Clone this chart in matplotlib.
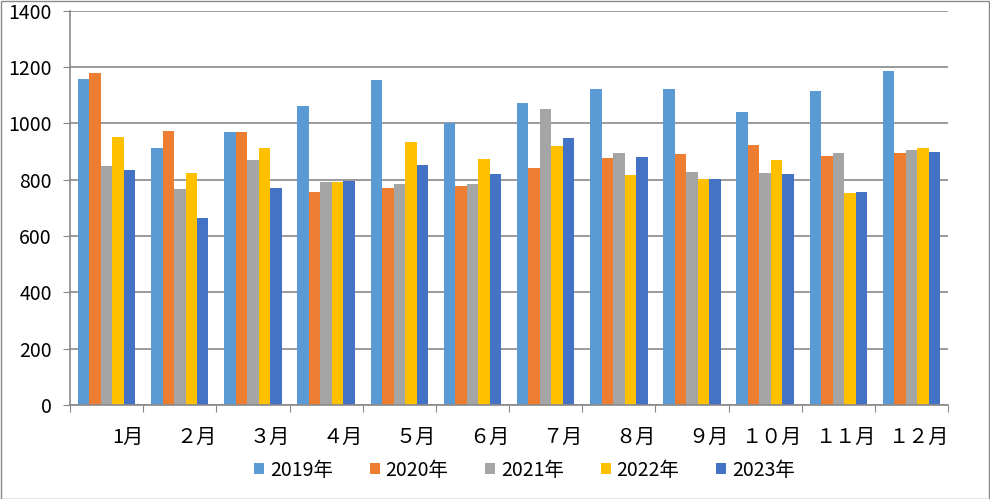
import matplotlib.pyplot as plt
import numpy as np

plt.rcParams['font.family'] = ['Noto Sans CJK JP', 'DejaVu Sans']

months = ['1月', '２月', '３月', '４月', '５月', '６月', '７月', '８月', '９月', '１０月', '１１月', '１２月']
years = ['2019年', '2020年', '2021年', '2022年', '2023年']
colors = ['#5B9BD5', '#ED7D31', '#A5A5A5', '#FFC000', '#4472C4']

v2019 = [1158, 913, 970, 1062, 1155, 1002, 1073, 1123, 1123, 1041, 1116, 1187]
v2020 = [1180, 973, 970, 757, 771, 778, 842, 877, 892, 924, 885, 895]
v2021 = [849, 767, 870, 792, 785, 785, 1052, 895, 828, 824, 895, 906]
v2022 = [952, 824, 913, 792, 934, 874, 920, 817, 803, 870, 753, 913]
v2023 = [835, 664, 771, 796, 853, 821, 949, 881, 803, 821, 757, 899]
series = [v2019, v2020, v2021, v2022, v2023]

fig = plt.figure(figsize=(9.9, 4.99), dpi=100)
ax = fig.add_axes([0.0707, 0.1884, 0.887, 0.79])

x = np.arange(len(months))
w = 0.157
for k, vals in enumerate(series):
    ax.bar(x + (k - 2) * w, vals, w, color=colors[k], label=years[k], zorder=2)

ax.set_xlim(-0.5, 11.5)
ax.set_ylim(0, 1400)
ax.set_yticks(range(0, 1401, 200))
ax.yaxis.grid(True, color='#898989', linewidth=1.2, zorder=0)
ax.set_axisbelow(True)

# 目盛りは区切り位置、ラベルは右寄せ
ax.set_xticks(np.arange(-0.5, 12))
ax.set_xticklabels([''] + months, ha='right', fontsize=14.5)
ax.tick_params(axis='x', length=5, color='#898989', pad=11)
ax.tick_params(axis='y', length=5, color='#898989', labelsize=14, pad=8)

for s in ['top', 'right']:
    ax.spines[s].set_visible(False)
for s in ['left', 'bottom']:
    ax.spines[s].set_color('#898989')
    ax.spines[s].set_linewidth(1.2)

fig.legend(loc='center', bbox_to_anchor=(0.53, 0.058), ncol=5, frameon=False,
           fontsize=14, handlelength=0.5, handleheight=0.5, handletextpad=0.3,
           columnspacing=1.9)

fig.patches.append(plt.Rectangle((0.001, 0.001), 0.998, 0.997, transform=fig.transFigure,
                                 fill=False, edgecolor='#898989', linewidth=1))

fig.savefig('out.png', dpi=100)
